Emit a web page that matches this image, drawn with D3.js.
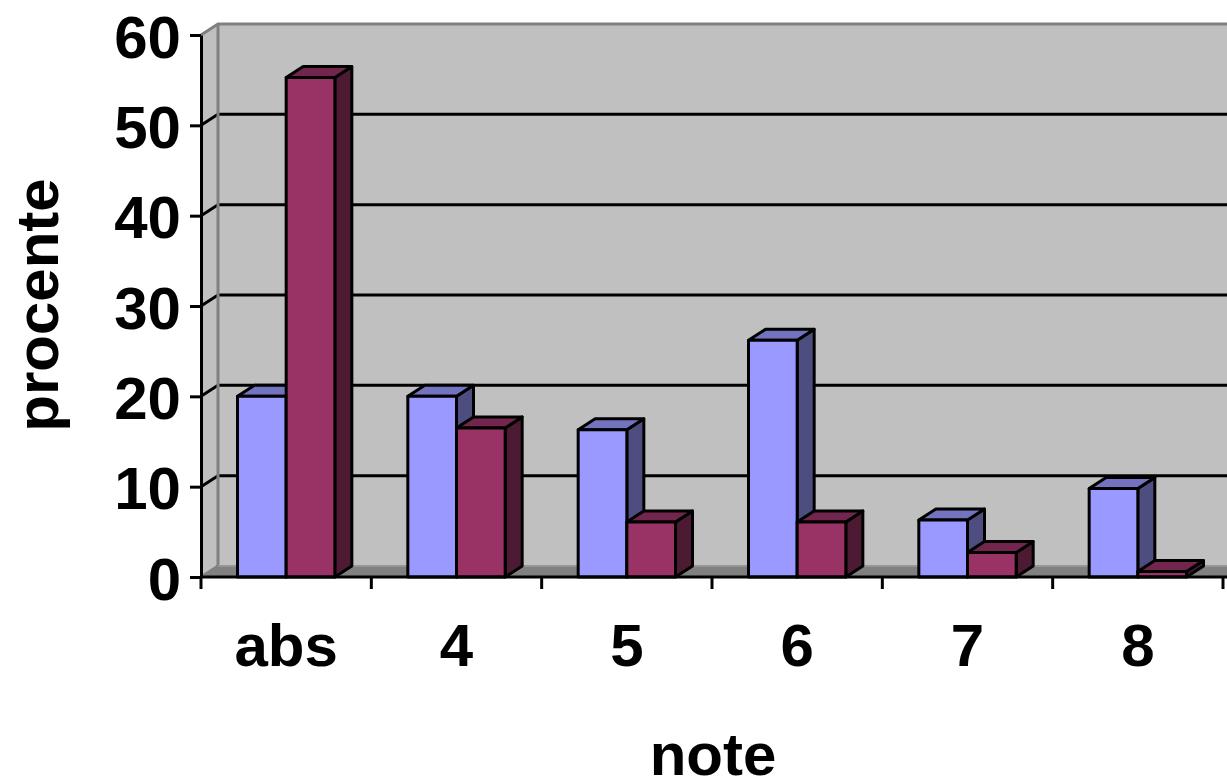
<!DOCTYPE html>
<html>
<head>
<meta charset="utf-8">
<script src="https://cdn.jsdelivr.net/npm/d3@7"></script>
<style>
  body { margin: 0; background: #ffffff; }
  text { font-family: "Liberation Sans", Arial, sans-serif; font-weight: bold; }
</style>
</head>
<body>
<div id="chart"></div>
<script>
// data
const categories = ["abs", "4", "5", "6", "7", "8"];
const seriesBlue = [20, 20, 16.3, 26.2, 6.3, 9.8];
const seriesMaroon = [55.3, 16.5, 6.1, 6.1, 2.7, 0.6];
const yTicks = [0, 10, 20, 30, 40, 50, 60];
const xTitle = "note";
const yTitle = "procente";

// colours: front, top, side for each series
const blueColors = ["#9999ff", "#7373c0", "#4d4d80"];
const maroonColors = ["#993366", "#73264d", "#4d1a33"];

function draw3dColumns() {
  const W = 1227,
    H = 779;
  // 3D depth offset of the walls and bars
  const dx = 17,
    dy = -11;
  const lw = 3; // line width

  var svg = d3
    .select("#chart")
    .append("svg")
    .attr("width", W)
    .attr("height", H);

  var x0 = d3.scaleBand().domain(categories).range([201, 1223]);
  var x1 = d3
    .scaleBand()
    .domain([0, 1])
    .range([0, x0.bandwidth()])
    .paddingOuter(0.75); // gap width 150%
  var y = d3.scaleLinear().domain([0, 60]).range([577, 35]);

  const xl = x0.range()[0],
    yTop = y(60),
    yBot = y(0);

  // back wall
  svg
    .append("rect")
    .attr("x", xl + dx)
    .attr("y", yTop + dy)
    .attr("width", W - xl - dx + 10)
    .attr("height", yBot - yTop)
    .attr("fill", "#c0c0c0");

  // side wall
  svg
    .append("polygon")
    .attr("points", [
      [xl, yTop],
      [xl + dx, yTop + dy],
      [xl + dx, yBot + dy],
      [xl, yBot],
    ].join(" "))
    .attr("fill", "#c0c0c0");

  // floor
  svg
    .append("polygon")
    .attr("points", [
      [xl, yBot],
      [xl + dx, yBot + dy],
      [W + 10, yBot + dy],
      [W + 10, yBot],
    ].join(" "))
    .attr("fill", "#808080");

  // gridlines on back + side wall
  var grid = yTicks.filter((d) => d > 0 && d < 60);
  svg
    .selectAll(".gridBack")
    .data(grid)
    .enter()
    .append("line")
    .attr("x1", xl + dx)
    .attr("x2", W + 10)
    .attr("y1", (d) => y(d) + dy)
    .attr("y2", (d) => y(d) + dy)
    .attr("stroke", "#000")
    .attr("stroke-width", lw);
  svg
    .selectAll(".gridSide")
    .data(grid)
    .enter()
    .append("line")
    .attr("x1", xl)
    .attr("x2", xl + dx)
    .attr("y1", (d) => y(d))
    .attr("y2", (d) => y(d) + dy)
    .attr("stroke", "#000")
    .attr("stroke-width", lw);

  // wall edges (grey)
  svg
    .append("polyline")
    .attr("points", [
      [xl, yTop],
      [xl + dx, yTop + dy],
      [W + 10, yTop + dy],
    ].join(" "))
    .attr("fill", "none")
    .attr("stroke", "#808080")
    .attr("stroke-width", lw);
  svg
    .append("polyline")
    .attr("points", [
      [xl + dx, yTop + dy],
      [xl + dx, yBot + dy],
      [xl, yBot],
    ].join(" "))
    .attr("fill", "none")
    .attr("stroke", "#808080")
    .attr("stroke-width", lw);
  svg
    .append("line")
    .attr("x1", xl + dx)
    .attr("x2", W + 10)
    .attr("y1", yBot + dy)
    .attr("y2", yBot + dy)
    .attr("stroke", "#969696")
    .attr("stroke-width", 2);

  // bars
  var rows = categories.map(function (c, i) {
    return [
      { cat: c, s: 0, v: seriesBlue[i], col: blueColors },
      { cat: c, s: 1, v: seriesMaroon[i], col: maroonColors },
    ];
  });

  var bar = svg
    .selectAll(".group")
    .data(rows)
    .enter()
    .append("g")
    .attr("class", "group")
    .selectAll(".bar")
    .data((d) => d)
    .enter()
    .append("g")
    .attr("class", "bar")
    .attr("stroke", "#000")
    .attr("stroke-width", lw)
    .attr("stroke-linejoin", "round");

  function pts(d, face) {
    var x = x0(d.cat) + x1(d.s),
      w = x1.bandwidth(),
      t = y(d.v),
      b = y(0);
    if (face == "top")
      return [[x, t], [x + dx, t + dy], [x + w + dx, t + dy], [x + w, t]].join(" ");
    return [[x + w, t], [x + w + dx, t + dy], [x + w + dx, b + dy], [x + w, b]].join(" ");
  }

  bar
    .append("polygon")
    .attr("points", (d) => pts(d, "side"))
    .attr("fill", (d) => d.col[2]);
  bar
    .append("polygon")
    .attr("points", (d) => pts(d, "top"))
    .attr("fill", (d) => d.col[1]);
  bar
    .append("rect")
    .attr("x", (d) => x0(d.cat) + x1(d.s))
    .attr("y", (d) => y(d.v))
    .attr("width", x1.bandwidth())
    .attr("height", (d) => y(0) - y(d.v))
    .attr("fill", (d) => d.col[0]);

  // Y axis
  var yAxis = svg
    .append("g")
    .attr("transform", "translate(" + xl + ",0)")
    .call(d3.axisLeft(y).tickValues(yTicks).tickSize(11).tickSizeOuter(0).tickPadding(9));
  yAxis.selectAll("line, path").attr("stroke", "#000").attr("stroke-width", lw);
  yAxis
    .selectAll("text")
    .attr("dy", 22)
    .attr("fill", "#000")
    .style("font-size", "60px");

  // X axis (labels centred, ticks on category borders)
  var xAxis = svg
    .append("g")
    .attr("transform", "translate(0," + yBot + ")")
    .call(d3.axisBottom(x0).tickSize(0).tickSizeOuter(0));
  xAxis.select("path.domain").attr("d", "M" + xl + ",0H" + (W + 10));
  xAxis.selectAll("path").attr("stroke", "#000").attr("stroke-width", lw);
  xAxis
    .selectAll("text")
    .attr("y", 89)
    .attr("dy", 0)
    .attr("fill", "#000")
    .style("font-size", "60px");

  var borders = categories.map((c) => x0(c)).concat([x0.range()[1]]);
  xAxis
    .selectAll(".borderTick")
    .data(borders)
    .enter()
    .append("line")
    .attr("x1", (d) => d)
    .attr("x2", (d) => d)
    .attr("y1", 0)
    .attr("y2", 12)
    .attr("stroke", "#000")
    .attr("stroke-width", lw);

  // axis titles
  svg
    .append("text")
    .attr("x", 713)
    .attr("y", 775)
    .attr("text-anchor", "middle")
    .style("font-size", "60px")
    .text(xTitle);
  svg
    .append("text")
    .attr("transform", "translate(58,305) rotate(-90)")
    .attr("text-anchor", "middle")
    .style("font-size", "60px")
    .text(yTitle);
}

draw3dColumns();
</script>
</body>
</html>
